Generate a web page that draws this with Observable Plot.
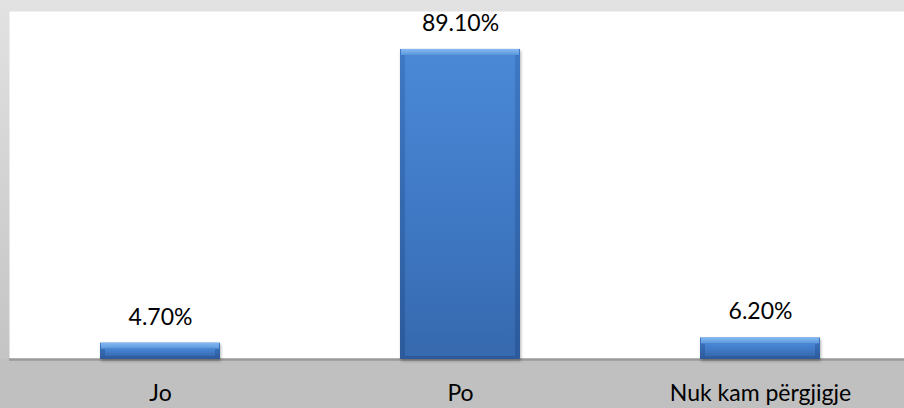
<!DOCTYPE html>
<html>
<head>
<meta charset="utf-8">
<script src="https://cdn.jsdelivr.net/npm/d3@7"></script>
<script src="https://cdn.jsdelivr.net/npm/@observablehq/plot@0.6"></script>
<style>
  html, body { margin: 0; padding: 0; background: #c0c0c0; }
  #chart svg { display: block; }
  #chart g.outer-bar { filter: drop-shadow(1px 2px 1.5px rgba(0,0,0,0.3)); }
</style>
</head>
<body>
<div id="chart"></div>
<script>
const categories = ["Jo", "Po", "Nuk kam përgjigje"];
const values = [4.7, 89.1, 6.2];
const valueLabels = ["4.70%", "89.10%", "6.20%"];

const data = categories.map((c, i) => ({category: c, value: values[i], label: valueLabels[i]}));

const W = 904, H = 408;
const fontFamily = "Lato, 'Open Sans', sans-serif";

const plot = Plot.plot({
  width: W,
  height: H,
  marginLeft: 9,
  marginRight: 0,
  marginTop: 11,
  marginBottom: 49,
  style: {
    background: "linear-gradient(to bottom, #e2e2e2 0%, #c4c4c4 88%, #c0c0c0 88%, #c0c0c0 100%)",
    fontFamily: fontFamily,
    overflow: "visible"
  },
  x: {domain: categories, range: [10, 910], paddingInner: 0.6, paddingOuter: 0.3},
  y: {domain: [0, 100], axis: null},
  marks: [
    Plot.frame({fill: "white", stroke: null}),
    Plot.ruleY([0], {stroke: "#9a9a9a", strokeWidth: 2.5}),
    Plot.barY(data, {x: "category", y: "value", fill: "url(#sideGrad)", className: "outer-bar"}),
    Plot.barY(data, {x: "category", y1: "value", y2: "value", insetBottom: -6, insetLeft: 1, insetRight: 1, fill: "url(#topGrad)"}),
    Plot.barY(data, {x: "category", y: "value", insetLeft: 5, insetRight: 5, insetTop: 6, insetBottom: 3, fill: "url(#faceGrad)"}),
    Plot.text(data, {x: "category", y: "value", text: "label", dy: -26, fontSize: 23, fill: "#000"}),
    Plot.axisX({tickSize: 0, tickPadding: 25, fontSize: 23, color: "#000", label: null})
  ]
});

const defs = d3.select(plot).insert("defs", ":first-child");
const sideG = defs.append("linearGradient").attr("id", "sideGrad").attr("x1", 0).attr("x2", 0).attr("y1", 0).attr("y2", 1);
sideG.append("stop").attr("offset", "0%").attr("stop-color", "#3f79c4");
sideG.append("stop").attr("offset", "100%").attr("stop-color", "#2c5a9b");
const topG = defs.append("linearGradient").attr("id", "topGrad").attr("x1", 0).attr("x2", 0).attr("y1", 0).attr("y2", 1);
topG.append("stop").attr("offset", "0%").attr("stop-color", "#86bbf0");
topG.append("stop").attr("offset", "100%").attr("stop-color", "#5b97de");
const faceG = defs.append("linearGradient").attr("id", "faceGrad").attr("x1", 0).attr("x2", 0).attr("y1", 0).attr("y2", 1);
faceG.append("stop").attr("offset", "0%").attr("stop-color", "#4a88d6");
faceG.append("stop").attr("offset", "50%").attr("stop-color", "#407ac6");
faceG.append("stop").attr("offset", "100%").attr("stop-color", "#3669ae");

document.getElementById("chart").appendChild(plot);
</script>
</body>
</html>
